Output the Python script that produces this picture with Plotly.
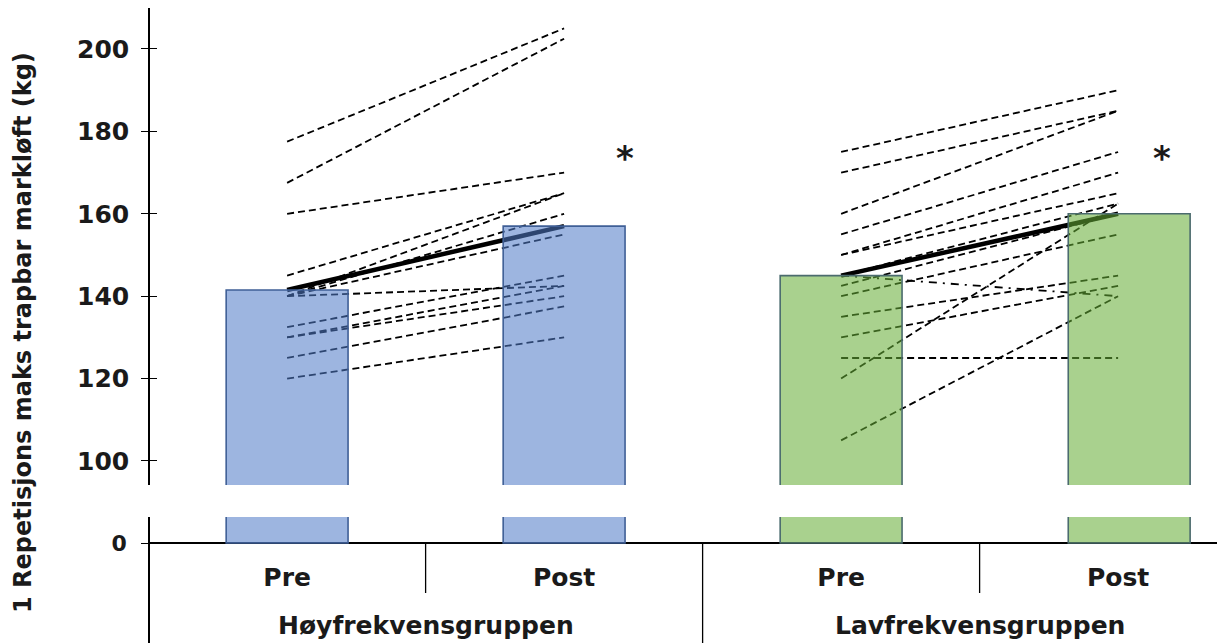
import plotly.graph_objects as go

# ---- data -------------------------------------------------------------
categories = ["Pre", "Post", "Pre", "Post"]
groups = ["Høyfrekvensgruppen", "Lavfrekvensgruppen"]
y_title = "1 Repetisjons maks trapbar markløft (kg)"
y_ticks = [100, 120, 140, 160, 180, 200]

# group means (bars)
hoy_mean = [141.5, 157.0]
lav_mean = [145.0, 160.0]

# individual subjects, pre -> post
hoy_pre = [177.5, 167.5, 160, 145, 140, 140, 140, 140, 132.5, 130, 130, 125, 120]
hoy_post = [205, 202.5, 170, 165, 165, 160, 155, 142.5, 145, 142.5, 140, 137.5, 130]

lav_pre = [175, 170, 160, 155, 150, 150, 145, 142.5, 140, 135, 130, 120, 125, 105]
lav_post = [190, 185, 185, 175, 170, 165, 162.5, 160, 155, 145, 142.5, 162.5, 125, 140]
# one subject in the low-frequency group that went down
lav_drop_pre = [145]
lav_drop_post = [140]

# significance markers (post-test vs pre-test)
sig_cat = [1, 3]
sig_y = [173.5, 173.5]

# ---- style -------------------------------------------------------------
FONT = "DejaVu Sans, Verdana, sans-serif"
TXT = "#1a1a1a"
W, H = 1217, 643
BLUE_FILL = "rgba(80,123,200,0.56)"
BLUE_EDGE = "#3f5f96"
GREEN_FILL = "rgba(102,173,54,0.56)"
GREEN_EDGE = "#4b6b6e"

X_RANGE = [-0.495, 3.357]
X_DOMAIN = [150 / W, 1.0]
UP_RANGE = [94.17, 209.95]
UP_DOMAIN = [(H - 485) / H, (H - 8) / H]
LO_RANGE = [-24.27, 6.31]
LO_DOMAIN = [0.0, (H - 517) / H]
BASE_POS = (H - 543) / H
BAR_W = 0.44
BAR_OFFSET = [-0.22, -0.22, -0.22, -0.18]
SIG_DX = [0.22, 0.16]

fig = go.Figure()

dash = "7px,4px"


def subject_lines(x0, x1, pre, post, style):
    for a, b in zip(pre, post):
        fig.add_trace(go.Scatter(
            x=[x0, x1], y=[a, b], mode="lines",
            line=dict(color="black", width=1.8, dash=style),
            xaxis="x", yaxis="y", showlegend=False, hoverinfo="skip"))


subject_lines(0, 1, hoy_pre, hoy_post, dash)
subject_lines(2, 3, lav_pre, lav_post, dash)
subject_lines(2, 3, lav_drop_pre, lav_drop_post, "8px,6px,2px,6px")

# group mean lines
for xs_, ys in (([0, 1], hoy_mean), ([2, 3], lav_mean)):
    fig.add_trace(go.Scatter(
        x=xs_, y=ys, mode="lines", line=dict(color="black", width=4.5),
        xaxis="x", yaxis="y", showlegend=False, hoverinfo="skip"))

bar_vals = hoy_mean + lav_mean
fills = [BLUE_FILL, BLUE_FILL, GREEN_FILL, GREEN_FILL]
edges = [BLUE_EDGE, BLUE_EDGE, GREEN_EDGE, GREEN_EDGE]
xs = list(range(len(categories)))

# bars on the upper (broken) segment sit on an overlaying axis so they
# cover the subject lines; the lower stub shows the zero baseline
for yax in ("y3", "y2"):
    fig.add_trace(go.Bar(
        x=xs, y=bar_vals, width=BAR_W, offset=BAR_OFFSET,
        marker=dict(color=fills, line=dict(color=edges, width=1.6)),
        xaxis="x", yaxis=yax, showlegend=False, hoverinfo="skip"))

tickfont = dict(family=FONT, size=25, color=TXT, weight=700)

fig.update_layout(
    width=W, height=H,
    margin=dict(l=0, r=0, t=0, b=0),
    paper_bgcolor="white", plot_bgcolor="rgba(0,0,0,0)",
    barmode="overlay",
    xaxis=dict(
        domain=X_DOMAIN, range=X_RANGE, anchor="free", position=BASE_POS,
        showline=True, linecolor="black", linewidth=1.5,
        tickvals=xs, ticktext=categories, ticks="",
        ticklabelstandoff=12, tickfont=dict(family=FONT, size=25, color=TXT, weight=700),
        showgrid=False, zeroline=False, fixedrange=True),
    yaxis=dict(
        domain=UP_DOMAIN, range=UP_RANGE, anchor="x",
        showline=True, linecolor="black", linewidth=1.5,
        tickvals=y_ticks, ticks="outside", ticklen=7, tickwidth=1.2, tickcolor="black",
        ticklabelstandoff=7, tickfont=tickfont,
        showgrid=False, zeroline=False),
    yaxis3=dict(
        overlaying="y", anchor="x", range=UP_RANGE,
        showline=False, tickvals=y_ticks, ticks="inside", ticklen=7, tickwidth=1.2,
        tickcolor="black", showticklabels=False, showgrid=False, zeroline=False),
    yaxis2=dict(
        domain=LO_DOMAIN, range=LO_RANGE, anchor="x",
        showline=True, linecolor="black", linewidth=1.5,
        tickvals=[0], ticks="outside", ticklen=7, tickwidth=1.2, tickcolor="black",
        ticklabelstandoff=10, tickfont=dict(family=FONT, size=22, color=TXT, weight=700),
        showgrid=False, zeroline=False),
)

# category / group separators below the baseline
for xv, y_end in ((0.5, (H - 593) / H), (1.5, 0.0), (2.5, (H - 593) / H)):
    fig.add_shape(type="line", xref="x", yref="paper",
                  x0=xv, x1=xv, y0=BASE_POS, y1=y_end,
                  line=dict(color="black", width=1.3))

for i, g in enumerate(groups):
    fig.add_annotation(x=2 * i + 0.5, y=(H - 625) / H, xref="x", yref="paper",
                       text=g, showarrow=False, yanchor="middle", xanchor="center",
                       font=dict(family=FONT, size=25, color=TXT, weight=700))

for cx, dx, sy in zip(sig_cat, SIG_DX, sig_y):
    fig.add_annotation(x=cx + dx, y=sy, xref="x", yref="y", text="*",
                       showarrow=False, xanchor="center",
                       font=dict(family=FONT, size=34, color=TXT, weight=700))

fig.add_annotation(x=23 / W, y=(H - 333) / H, xref="paper", yref="paper",
                   xanchor="center", yanchor="middle",
                   text=y_title, textangle=-90, showarrow=False,
                   font=dict(family=FONT, size=24, color=TXT, weight=700))

fig.write_html("out.html")
